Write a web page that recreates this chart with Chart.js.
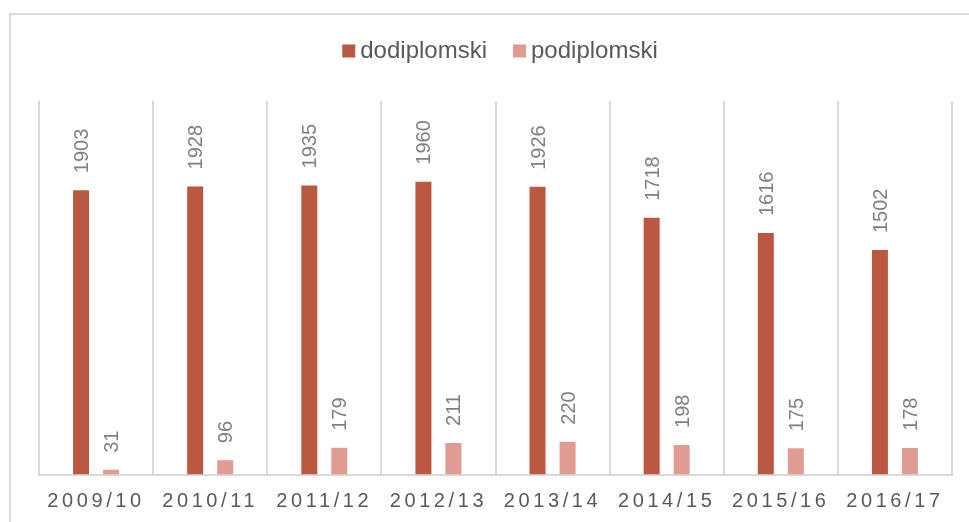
<!DOCTYPE html>
<html>
<head>
<meta charset="utf-8">
<script src="https://cdn.jsdelivr.net/npm/chart.js@4/dist/chart.umd.min.js"></script>
<style>
  body { margin: 0; overflow: hidden; background: #fff; }
  #frame {
    position: absolute; left: 9px; top: 13px; width: 1000px; height: 600px;
    border-left: 2px solid #d9d9d9; border-top: 2px solid #d9d9d9;
  }
  #chart { position: absolute; left: 0; top: 0; }
</style>
</head>
<body>
<div id="frame"></div>
<canvas id="chart" width="969" height="522"></canvas>
<script>
const categories = ["2009/10", "2010/11", "2011/12", "2012/13", "2013/14", "2014/15", "2015/16", "2016/17"];
const dodiplomski = [1903, 1928, 1935, 1960, 1926, 1718, 1616, 1502];
const podiplomski = [31, 96, 179, 211, 220, 198, 175, 178];
const seriesNames = ["dodiplomski", "podiplomski"];

const FONT = "'Liberation Sans', Arial, sans-serif";
const darkRed = "#ba5842";
const lightRed = "#e09b92";

// rotated value labels above each bar
const valueLabels = {
  id: "valueLabels",
  afterDatasetsDraw(chart) {
    const ctx = chart.ctx;
    ctx.save();
    ctx.letterSpacing = "0px";
    ctx.font = "20px " + FONT;
    ctx.fillStyle = "#808080";
    ctx.textAlign = "left";
    ctx.textBaseline = "middle";
    chart.data.datasets.forEach((ds, i) => {
      chart.getDatasetMeta(i).data.forEach((bar, j) => {
        ctx.save();
        ctx.translate(bar.x + 1.5, bar.y - 17);
        ctx.rotate(-Math.PI / 2);
        ctx.fillText(String(ds.data[j]), 0, 0);
        ctx.restore();
      });
    });
    ctx.restore();
  }
};

// legend drawn like the original (small square, tight gap)
const topLegend = {
  id: "topLegend",
  afterDraw(chart) {
    const ctx = chart.ctx;
    ctx.save();
    ctx.letterSpacing = "0px";
    ctx.font = "24px " + FONT;
    ctx.textBaseline = "middle";
    ctx.textAlign = "left";
    const box = 13, gap = 5, itemGap = 26, cy = 51;
    const items = chart.data.datasets.map(ds => ({
      text: ds.label, color: ds.backgroundColor, w: ctx.measureText(ds.label).width
    }));
    let total = 0;
    items.forEach((it, i) => { total += box + gap + it.w + (i ? itemGap : 0); });
    let x = 500 - total / 2;
    items.forEach(it => {
      ctx.fillStyle = it.color;
      ctx.fillRect(x, cy - box / 2, box, box);
      ctx.fillStyle = "#595959";
      ctx.fillText(it.text, x + box + gap, cy);
      x += box + gap + it.w + itemGap;
    });
    ctx.restore();
  }
};

// spaced-out category labels
const spacing = {
  id: "spacing",
  beforeDraw(chart) { chart.ctx.letterSpacing = "3.6px"; },
  afterDraw(chart) { chart.ctx.letterSpacing = "0px"; }
};

new Chart(document.getElementById("chart"), {
  type: "bar",
  data: {
    labels: categories,
    datasets: [
      { label: seriesNames[0], data: dodiplomski, backgroundColor: darkRed },
      { label: seriesNames[1], data: podiplomski, backgroundColor: lightRed }
    ]
  },
  options: {
    responsive: false,
    animation: false,
    devicePixelRatio: 1,
    layout: { padding: { left: 39, right: 17, top: 101, bottom: 0 } },
    datasets: { bar: { categoryPercentage: 0.526, barPercentage: 0.533 } },
    plugins: { legend: { display: false }, tooltip: { enabled: false } },
    scales: {
      x: {
        grid: { color: "#d9d9d9", lineWidth: 2, drawTicks: false, offset: true },
        border: { color: "#d9d9d9", width: 2 },
        ticks: { color: "#595959", font: { size: 20, family: FONT }, padding: 15, maxRotation: 0 },
        afterFit(scale) { scale.height = 47.5; }
      },
      y: { display: false, min: 0, max: 2500 }
    }
  },
  plugins: [spacing, valueLabels, topLegend]
});
</script>
</body>
</html>
